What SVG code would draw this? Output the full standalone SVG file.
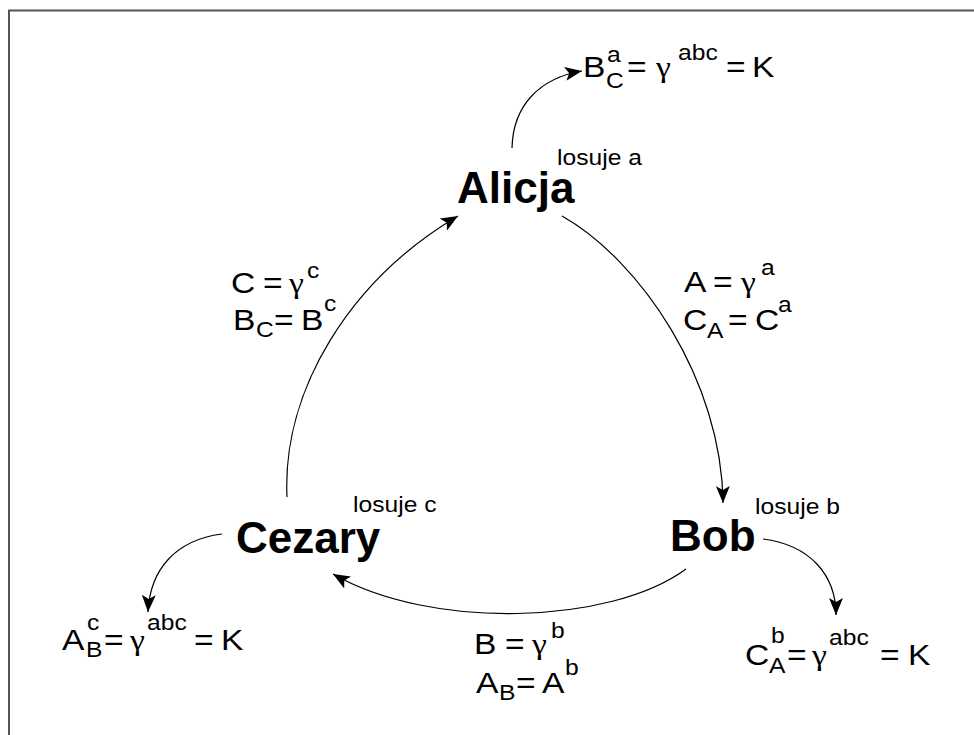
<svg xmlns="http://www.w3.org/2000/svg" width="974" height="735" viewBox="0 0 974 735">
<defs>
<style>
text{font-family:"Liberation Sans",Arial,sans-serif;fill:#000}
.n{font-size:44px;font-weight:bold}
.b{font-size:30px}
.s{font-size:22px}
.l{font-size:22px}
.g{font-family:"Liberation Serif","Times New Roman",serif;font-size:30px}
.c{fill:none;stroke:#000;stroke-width:1.2}
</style>
<marker id="ah" markerUnits="userSpaceOnUse" markerWidth="18" markerHeight="14" viewBox="0 0 18 14" refX="17" refY="7" orient="auto">
<path d="M0,0 L17,7 L0,14 L4,7 Z" fill="#000"/>
</marker>
</defs>
<rect width="974" height="735" fill="#fff"/>
<path d="M9,735 V10.5 H974" fill="none" stroke="#555" stroke-width="2"/>

<g id="connectors">
<path class="c" d="M512,148 C513,105 540,78 582,71" marker-end="url(#ah)"/>
<path class="c" d="M562,216 C640,260 722,380 723,503" marker-end="url(#ah)"/>
<path class="c" d="M686,569 C610,625 430,630 333,574" marker-end="url(#ah)"/>
<path class="c" d="M287,497 C282,390 350,280 458,216" marker-end="url(#ah)"/>
<path class="c" d="M763,539 C810,545 836,575 836,615" marker-end="url(#ah)"/>
<path class="c" d="M222,534 C175,540 150,570 148,612" marker-end="url(#ah)"/>
</g>

<g id="alicja">
<text class="n" x="457" y="203">Alicja</text>
<text class="l" transform="translate(557 165) scale(1.12 1)">losuje a</text>
</g>
<g id="bob">
<text class="n" x="670" y="551">Bob</text>
<text class="l" transform="translate(755 514) scale(1.12 1)">losuje b</text>
</g>
<g id="cezary">
<text class="n" x="236" y="553">Cezary</text>
<text class="l" transform="translate(353 512) scale(1.12 1)">losuje c</text>
</g>

<g id="key-a">
<text class="b" transform="translate(583 77) scale(1.12 1)">B</text>
<text class="s" transform="translate(607 62) scale(1.12 1)">a</text>
<text class="s" transform="translate(606 88) scale(1.12 1)">C</text>
<text class="b" transform="translate(627 77) scale(1.12 1)">=</text>
<text class="g" transform="translate(656 77) scale(1.12 1)">γ</text>
<text class="s" transform="translate(678 60) scale(1.12 1)">abc</text>
<text class="b" transform="translate(726 77) scale(1.12 1)">=</text>
<text class="b" transform="translate(752 77) scale(1.12 1)">K</text>
</g>

<g id="msg-c">
<text class="b" transform="translate(231 293) scale(1.12 1)">C</text>
<text class="b" transform="translate(263 293) scale(1.12 1)">=</text>
<text class="g" transform="translate(289 293) scale(1.12 1)">γ</text>
<text class="s" transform="translate(307 278) scale(1.12 1)">c</text>
<text class="b" transform="translate(233 330) scale(1.12 1)">B</text>
<text class="s" transform="translate(256 337) scale(1.12 1)">C</text>
<text class="b" transform="translate(274 330) scale(1.12 1)">=</text>
<text class="b" transform="translate(301 330) scale(1.12 1)">B</text>
<text class="s" transform="translate(324 311) scale(1.12 1)">c</text>
</g>

<g id="msg-a">
<text class="b" transform="translate(684 292) scale(1.12 1)">A</text>
<text class="b" transform="translate(713 292) scale(1.12 1)">=</text>
<text class="g" transform="translate(741 292) scale(1.12 1)">γ</text>
<text class="s" transform="translate(761 275) scale(1.12 1)">a</text>
<text class="b" transform="translate(683 330) scale(1.12 1)">C</text>
<text class="s" transform="translate(707 338) scale(1.12 1)">A</text>
<text class="b" transform="translate(728 330) scale(1.12 1)">=</text>
<text class="b" transform="translate(755 330) scale(1.12 1)">C</text>
<text class="s" transform="translate(778 312) scale(1.12 1)">a</text>
</g>

<g id="msg-b">
<text class="b" transform="translate(474 654) scale(1.12 1)">B</text>
<text class="b" transform="translate(505 654) scale(1.12 1)">=</text>
<text class="g" transform="translate(532 654) scale(1.12 1)">γ</text>
<text class="s" transform="translate(551 638) scale(1.12 1)">b</text>
<text class="b" transform="translate(476 693) scale(1.12 1)">A</text>
<text class="s" transform="translate(499 700) scale(1.12 1)">B</text>
<text class="b" transform="translate(516 693) scale(1.12 1)">=</text>
<text class="b" transform="translate(542 693) scale(1.12 1)">A</text>
<text class="s" transform="translate(565 675) scale(1.12 1)">b</text>
</g>

<g id="key-c">
<text class="b" transform="translate(62 650) scale(1.12 1)">A</text>
<text class="s" transform="translate(87 630) scale(1.12 1)">c</text>
<text class="s" transform="translate(86 657) scale(1.12 1)">B</text>
<text class="b" transform="translate(104 650) scale(1.12 1)">=</text>
<text class="g" transform="translate(130 650) scale(1.12 1)">γ</text>
<text class="s" transform="translate(147 630) scale(1.12 1)">abc</text>
<text class="b" transform="translate(194 650) scale(1.12 1)">=</text>
<text class="b" transform="translate(221 650) scale(1.12 1)">K</text>
</g>

<g id="key-b">
<text class="b" transform="translate(745 665) scale(1.12 1)">C</text>
<text class="s" transform="translate(771 643) scale(1.12 1)">b</text>
<text class="s" transform="translate(769 673) scale(1.12 1)">A</text>
<text class="b" transform="translate(787 665) scale(1.12 1)">=</text>
<text class="g" transform="translate(812 665) scale(1.12 1)">γ</text>
<text class="s" transform="translate(829 645) scale(1.12 1)">abc</text>
<text class="b" transform="translate(880 665) scale(1.12 1)">=</text>
<text class="b" transform="translate(908 665) scale(1.12 1)">K</text>
</g>
</svg>
